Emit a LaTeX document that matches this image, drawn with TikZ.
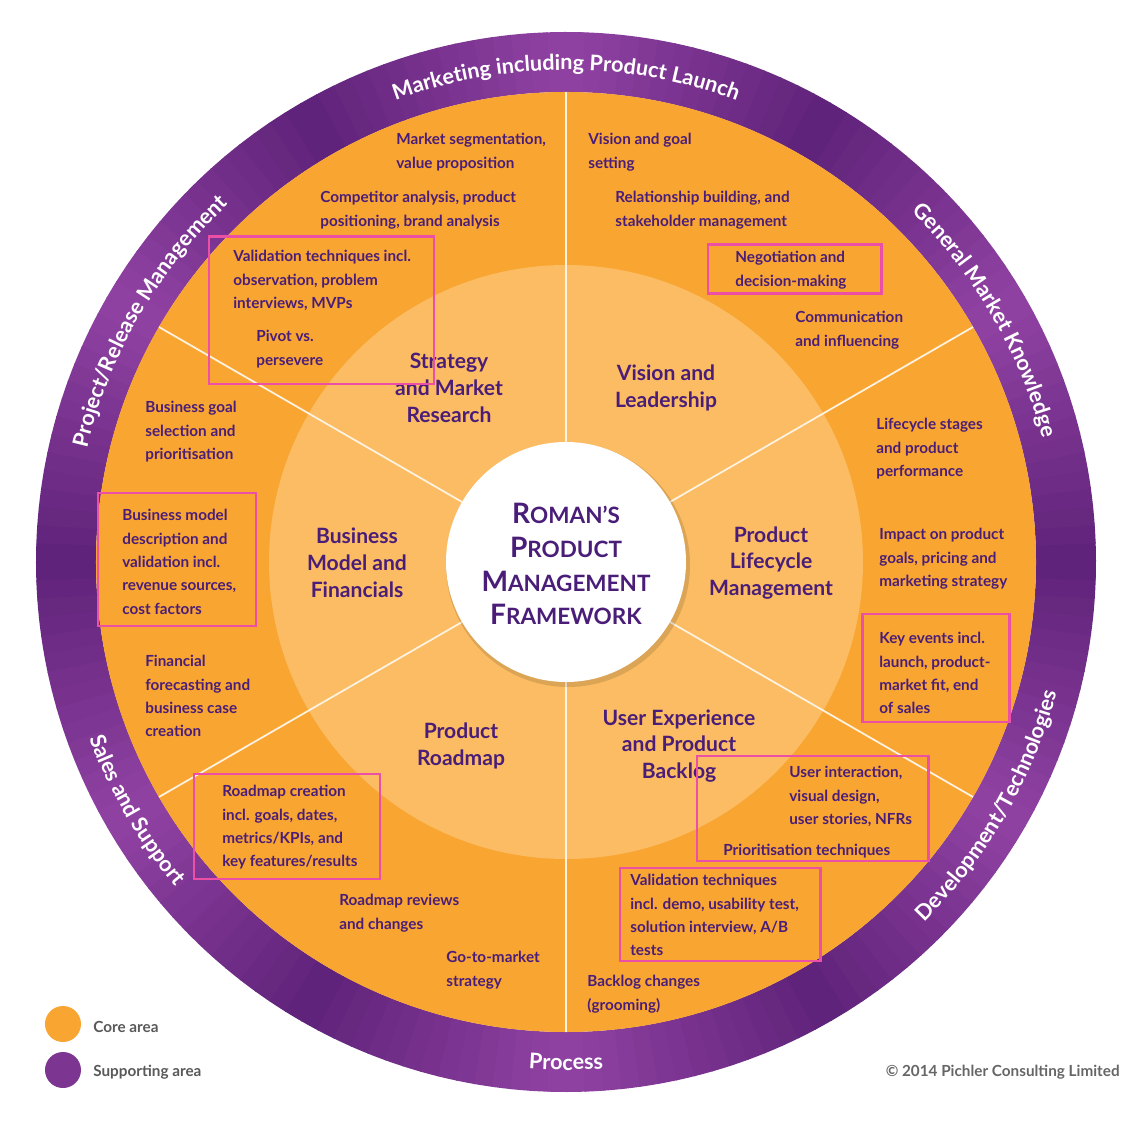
\documentclass[tikz,border=0pt]{standalone}
\usepackage{fontspec}
\setmainfont{Lato}
\usetikzlibrary{decorations.text}
\definecolor{txt}{HTML}{4A1E78}
\definecolor{pdark}{HTML}{5E2279}
\definecolor{plight}{HTML}{9142A3}
\definecolor{orng}{HTML}{F9A532}
\definecolor{orngin}{HTML}{FBBC63}
\definecolor{pink}{HTML}{EC4FA6}
\newcommand{\lblfont}{\fontsize{8.7}{13.3}\selectfont\bfseries}
\newcommand{\ttlfont}{\fontsize{12}{15.3}\selectfont\bfseries}
\newcommand{\ringfont}{\fontsize{12.3}{14}\selectfont\bfseries}
\newcommand{\BigL}[1]{{\fontsize{16}{19.3}\selectfont #1}}
\newcommand{\SmL}[1]{{\fontsize{12.8}{19.3}\selectfont #1}}
\begin{document}
\begin{tikzpicture}[x=0.02cm,y=0.02cm,
  lbl/.style={anchor=north west,align=left,inner sep=0pt,font=\lblfont,text=txt},
  ttl/.style={align=center,inner sep=0pt,font=\ttlfont,text=txt},
  hl/.style={draw=pink,line width=1.7pt},
  divline/.style={draw=white!85!orng,line width=1pt},
  ringtxt/.style={decorate,decoration={text along path,text align=center,text color=white}}]
\useasboundingbox (-566,-563) rectangle (569,562);
\fill[white] (-566,-563) rectangle (569,562);
% ring
\foreach \s in {0,60,...,300}{
  \foreach \i in {0,...,29}{
    \pgfmathsetmacro\p{100-abs(\i-14.5)*6.6}
    \pgfmathsetmacro\a{\s+2*\i}
    \pgfmathsetmacro\b{\s+2*\i+2.15}
    \fill[plight!\p!pdark] (\a:470) -- (\a:530) arc[start angle=\a,end angle=\b,radius=530] -- (\b:470) arc[start angle=\b,end angle=\a,radius=470] -- cycle;
  }
}
\fill[orng] (0,0) circle[radius=470];
\fill[orngin] (0,0) circle[radius=297];
\foreach \ang in {90,30,-30,-90,210,150}
  \draw[divline] (\ang:120) -- (\ang:470);
\fill[black,opacity=0.12] (2,-3) circle[radius=122];
\fill[white] (0,0) circle[radius=120];
% ring labels
\path[ringtxt,decoration={text={|\ringfont|Marketing including Product Launch}}] (125:492) arc[start angle=125,end angle=55,radius=492];
\path[ringtxt,decoration={text={|\ringfont|Project/Release Management}}] (185:492) arc[start angle=185,end angle=115,radius=492];
\path[ringtxt,decoration={text={|\ringfont|General Market Knowledge}}] (65:492) arc[start angle=65,end angle=-5,radius=492];
\path[ringtxt,decoration={text={|\ringfont|Development/Technologies}}] (-65:508) arc[start angle=-65,end angle=5,radius=508];
\path[ringtxt,decoration={text={|\ringfont|Process}}] (-125:508) arc[start angle=-125,end angle=-55,radius=508];
\path[ringtxt,decoration={text={|\ringfont|Sales and Support}}] (175:508) arc[start angle=175,end angle=245,radius=508];
% center
\node[align=center,text=txt,font=\fontsize{16}{19.3}\selectfont\bfseries,inner sep=0pt] (ctr) at (0,-2) {\BigL{R}\SmL{OMAN’S}\\\BigL{P}\SmL{RODUCT}\\\BigL{M}\SmL{ANAGEMENT}\\\BigL{F}\SmL{RAMEWORK}};
% titles
\node[ttl] (t1) at (-117,174) {Strategy\\and Market\\Research};
\node[ttl] (t2) at (100,174) {Vision and\\Leadership};
\node[ttl] (t3) at (205,-1) {Product\\Lifecycle\\Management};
\node[ttl] (t4) at (113,-184) {User Experience\\and Product\\Backlog};
\node[ttl] (t5) at (-105,-184) {Product\\Roadmap};
\node[ttl] (t6) at (-209,-1) {Business\\Model and\\Financials};
% labels
\node[lbl] (l1) at (-170,429) {Market segmentation,\\value proposition};
\node[lbl] (l2) at (-246,371) {Competitor analysis, product\\positioning, brand analysis};
\node[lbl] (l3) at (-333,312) {Validation techniques incl.\\observation, problem\\interviews, MVPs};
\node[lbl] (l4) at (-310,232) {Pivot vs.\\persevere};
\node[lbl] (l5) at (22,429) {Vision and goal\\setting};
\node[lbl] (l6) at (49,371) {Relationship building, and\\stakeholder management};
\node[lbl] (l7) at (169,311) {Negotiation and\\decision-making};
\node[lbl] (l8) at (229,251) {Communication\\and influencing};
\node[lbl] (l9) at (310,144) {Lifecycle stages\\and product\\performance};
\node[lbl] (l10) at (313,34) {Impact on product\\goals, pricing and\\marketing strategy};
\node[lbl] (l11) at (313,-70) {Key events incl.\\launch, product-\\market fit, end\\of sales};
\node[lbl] (l12) at (223,-204) {User interaction,\\visual design,\\user stories, NFRs};
\node[lbl] (l13) at (157,-282) {Prioritisation techniques};
\node[lbl] (l14) at (64,-312) {Validation techniques\\incl. demo, usability test,\\solution interview, A/B\\tests};
\node[lbl] (l15) at (21,-413) {Backlog changes\\(grooming)};
\node[lbl] (l16) at (-120,-389) {Go-to-market\\strategy};
\node[lbl] (l17) at (-227,-332) {Roadmap reviews\\and changes};
\node[lbl] (l18) at (-344,-223) {Roadmap creation\\incl. goals, dates,\\metrics/KPIs, and\\key features/results};
\node[lbl] (l19) at (-421,-93) {Financial\\forecasting and\\business case\\creation};
\node[lbl] (l20) at (-444,53) {Business model\\description and\\validation incl.\\revenue sources,\\cost factors};
\node[lbl] (l21) at (-421,161) {Business goal\\selection and\\prioritisation};
% highlight boxes
\draw[hl] (-357,325) rectangle (-132,178);
\draw[hl] (142,317) rectangle (315,268);
\draw[hl] (296,-52) rectangle (443,-160);
\draw[hl] (131,-194) rectangle (362,-299);
\draw[hl] (54,-306) rectangle (254,-399);
\draw[hl] (-372,-212) rectangle (-186,-317);
\draw[hl] (-468,69) rectangle (-310,-64);
% legend
\fill[orng] (-503,-462) circle[radius=18];
\fill[plight!60!pdark] (-503,-508) circle[radius=18];
\node[anchor=west,inner sep=0pt,font=\lblfont,text=black!65] (lg1) at (-473,-465) {Core area};
\node[anchor=west,inner sep=0pt,font=\lblfont,text=black!65] (lg2) at (-473,-510) {Supporting area};
\node[anchor=east,inner sep=0pt,font=\lblfont,text=black!60] (cp) at (554,-510) {© 2014 Pichler Consulting Limited};
\end{tikzpicture}
\end{document}
